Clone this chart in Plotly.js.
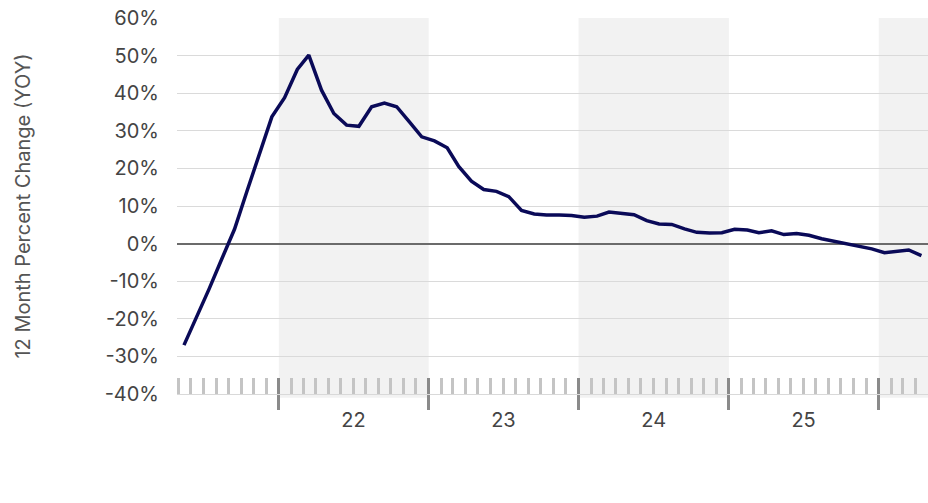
<!DOCTYPE html>
<html>
<head>
<meta charset="utf-8">
<script src="https://cdn.plot.ly/plotly-3.0.1.min.js"></script>
<style>html,body{margin:0;padding:0;background:#fff;}#chart{width:928px;height:503px;}</style>
</head>
<body>
<div id="chart"></div>
<script>
// Months of the series (points plotted mid-month)
const months = [
  '2021-05','2021-06','2021-07','2021-08','2021-09','2021-10','2021-11','2021-12',
  '2022-01','2022-02','2022-03','2022-04','2022-05','2022-06','2022-07','2022-08','2022-09','2022-10','2022-11','2022-12',
  '2023-01','2023-02','2023-03','2023-04','2023-05','2023-06','2023-07','2023-08','2023-09','2023-10','2023-11','2023-12',
  '2024-01','2024-02','2024-03','2024-04','2024-05','2024-06','2024-07','2024-08','2024-09','2024-10','2024-11','2024-12',
  '2025-01','2025-02','2025-03','2025-04','2025-05','2025-06','2025-07','2025-08','2025-09','2025-10','2025-11','2025-12',
  '2026-01','2026-02','2026-03','2026-04'
];
// 12 month percent change (YOY), %
const yoyValues = [
  -27.0, -19.7, -12.1, -4.1, 3.8, 13.8, 23.8, 33.7,
  38.8, 46.3, 50.1, 40.8, 34.6, 31.5, 31.2, 36.4, 37.4, 36.4, 32.4, 28.4,
  27.3, 25.5, 20.5, 16.6, 14.4, 13.9, 12.5, 8.8, 7.9, 7.6, 7.6, 7.5,
  7.0, 7.3, 8.4, 8.1, 7.7, 6.1, 5.2, 5.1, 3.9, 3.0, 2.8, 2.9,
  3.8, 3.6, 2.9, 3.4, 2.4, 2.7, 2.2, 1.3, 0.6, -0.1, -0.8, -1.4,
  -2.4, -2.1, -1.7, -3.2
];
// Y axis ticks
const yTickVals = [-40, -30, -20, -10, 0, 10, 20, 30, 40, 50, 60];
const yTickText = ['-40%', '-30%', '-20%', '-10%', '0%', '10%', '20%', '30%', '40%', '50%', '60%'];
// Year labels on the x axis and shaded years
const yearLabels = ['22', '23', '24', '25'];
const labelYears = [2022, 2023, 2024, 2025];
const shadedYears = [2022, 2024, 2026];
const yearBoundaries = [2022, 2023, 2024, 2025, 2026];
const xStart = '2021-04-28';
const xEnd = '2026-05-01';

const xDates = months.map(m => m + '-15');

const trace = {
  x: xDates, y: yoyValues, type: 'scatter', mode: 'lines',
  line: {color: '#0a0a58', width: 3.5}, hoverinfo: 'x+y', showlegend: false
};

const shapes = shadedYears.map(y => ({
  type: 'rect', xref: 'x', yref: 'paper',
  x0: y + '-01-01', x1: (y + 1) + '-01-01', y0: -0.01, y1: 1,
  fillcolor: '#f2f2f2', line: {width: 0}, layer: 'below'
}));

const font = {family: 'Inter, "Noto Sans", sans-serif', size: 20, color: '#444444'};

const layout = {
  width: 928, height: 503,
  margin: {l: 177, r: 0, t: 18, b: 109},
  paper_bgcolor: '#ffffff', plot_bgcolor: 'rgba(0,0,0,0)',
  font: font,
  showlegend: false,
  shapes: shapes,
  xaxis: {
    type: 'date', range: [xStart, xEnd], fixedrange: true,
    showgrid: false, zeroline: false,
    showline: true, linecolor: '#d9d9d9', linewidth: 1,
    tick0: '2022-01-01', dtick: 'M12',
    ticks: 'inside', ticklen: 16, tickwidth: 3, tickcolor: '#8a8a8a',
    showticklabels: false,
    minor: {tick0: '2021-05-01', dtick: 'M1', ticks: 'inside', ticklen: 16, tickwidth: 3, tickcolor: '#c4c4c4', showgrid: false}
  },
  xaxis2: {
    type: 'date', overlaying: 'x', matches: 'x', anchor: 'y', side: 'bottom',
    showgrid: false, zeroline: false, showline: false,
    tickmode: 'array', tickvals: yearBoundaries.map(y => y + '-01-01'),
    ticks: 'outside', ticklen: 15, tickwidth: 3, tickcolor: '#8a8a8a',
    showticklabels: false
  },
  xaxis3: {
    type: 'date', overlaying: 'x', matches: 'x', anchor: 'y', side: 'bottom',
    showgrid: false, zeroline: false, showline: false,
    tickmode: 'array', tickvals: labelYears.map(y => y + '-07-02'), ticktext: yearLabels,
    ticks: '', ticklabelstandoff: 12,
    tickfont: font
  },
  yaxis: {
    range: [-40, 60], fixedrange: true,
    tickmode: 'array', tickvals: yTickVals, ticktext: yTickText,
    showgrid: true, gridcolor: '#dadada', gridwidth: 1,
    zeroline: true, zerolinecolor: '#6b6b6b', zerolinewidth: 2,
    showline: false, ticks: '', ticklabelstandoff: 17,
    tickfont: font,
    automargin: true,
    title: {text: '12 Month Percent Change (YOY)', standoff: 68, font: {family: font.family, size: 20, color: '#555555'}}
  }
};

// dummy traces to activate overlay axes
const t2 = {x: [xStart], y: [null], xaxis: 'x2', yaxis: 'y', mode: 'lines', showlegend: false, hoverinfo: 'skip'};
const t3 = {x: [xStart], y: [null], xaxis: 'x3', yaxis: 'y', mode: 'lines', showlegend: false, hoverinfo: 'skip'};

Plotly.newPlot('chart', [trace, t2, t3], layout, {displayModeBar: false, staticPlot: true});
</script>
</body>
</html>
